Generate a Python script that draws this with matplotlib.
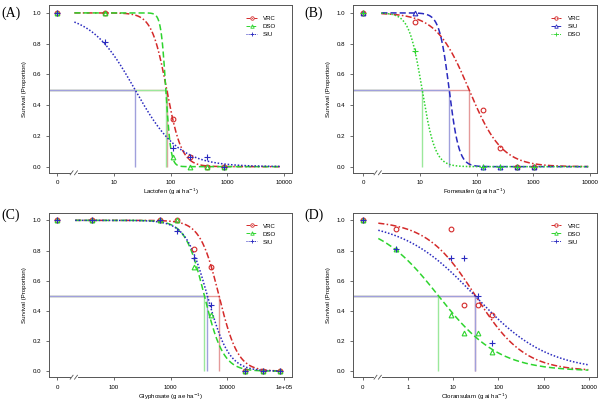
import numpy as np
import matplotlib
matplotlib.use("Agg")
import matplotlib.pyplot as plt

plt.rcParams['font.family'] = ['Liberation Sans', 'DejaVu Sans']

RED = "#d42a2a"
GREEN = "#2ed42e"
BLUE = "#2a2abf"
LIGHT = {RED: "#e49a9a", GREEN: "#9be89b", BLUE: "#a0a0dc"}

# ---- Panel A: Lactofen ----
a_dose = [0, 7, 110, 220, 440, 880]
a_vrc = [1.0, 1.0, 0.31, 0.06, 0.0, 0.0]
a_dso = [1.0, 1.0, 0.06, 0.0, 0.0, 0.0]
a_siu = [1.0, 0.81, 0.12, 0.06, 0.06, 0.0]
a_ed50 = [85, 82, 23.5]          # VRC, DSO, SIU
a_slope = [3.3, 10, 1.12]

# ---- Panel B: Fomesafen ----
b_dose = [0, 8.2, 131, 263, 525, 1050]
b_vrc = [1.0, 0.94, 0.37, 0.12, 0.0, 0.0]
b_siu = [1.0, 1.0, 0.0, 0.0, 0.0, 0.0]
b_dso = [1.0, 0.75, 0.0, 0.0, 0.0, 0.0]
b_ed50 = [74, 33, 11]            # VRC, SIU, DSO
b_slope = [1.5, 5, 3.8]

# ---- Panel C: Glyphosate ----
c_dose = [0, 40.6, 650, 1300, 2600, 5200, 20800, 41600, 83200]
c_vrc = [1.0, 1.0, 1.0, 1.0, 0.81, 0.69, 0.0, 0.0, 0.0]
c_dso = [1.0, 1.0, 1.0, 1.0, 0.69, 0.37, 0.0, 0.0, 0.0]
c_siu = [1.0, 1.0, 1.0, 0.93, 0.75, 0.44, 0.0, 0.0, 0.0]
c_ed50 = [7100, 3920, 4430]      # VRC, DSO, SIU
c_slope = [2.6, 2.6, 2.3]

# ---- Panel D: Cloransulam ----
d_dose = [0, 0.55, 8.8, 17.6, 35.2, 70.4]
d_vrc = [1.0, 0.94, 0.94, 0.44, 0.44, 0.37]
d_dso = [1.0, 0.81, 0.37, 0.25, 0.25, 0.125]
d_siu = [1.0, 0.81, 0.75, 0.75, 0.50, 0.19]
d_ed50 = [31, 4.7, 30]           # VRC, DSO, SIU
d_slope = [0.8, 0.65, 0.54]

panels = [
    dict(tag="(A)", herb="Lactofen (g ai ha$^{-1}$)", dose=a_dose,
         pops=["VRC", "DSO", "SIU"], ys=[a_vrc, a_dso, a_siu],
         ed=a_ed50, b=a_slope, cols=[RED, GREEN, BLUE],
         zero=1, ticks=[10, 100, 1000, 10000], tlab=["10", "100", "1000", "10000"],
         xlim=(0.714, 13770), crange=(2.0, 8800)),
    dict(tag="(B)", herb="Fomesafen (g ai ha$^{-1}$)", dose=b_dose,
         pops=["VRC", "SIU", "DSO"], ys=[b_vrc, b_siu, b_dso],
         ed=b_ed50, b=b_slope, cols=[RED, BLUE, GREEN],
         zero=1, ticks=[10, 100, 1000, 10000], tlab=["10", "100", "1000", "10000"],
         xlim=(0.66, 13200), crange=(2.1, 9300)),
    dict(tag="(C)", herb="Glyphosate (g ae ha$^{-1}$)", dose=c_dose,
         pops=["VRC", "DSO", "SIU"], ys=[c_vrc, c_dso, c_siu],
         ed=c_ed50, b=c_slope, cols=[RED, GREEN, BLUE],
         zero=10, ticks=[100, 1000, 10000, 100000], tlab=["100", "1000", "10000", "1e+05"],
         xlim=(7.14, 137700), crange=(20.7, 93000)),
    dict(tag="(D)", herb="Cloransulam (g ai ha$^{-1}$)", dose=d_dose,
         pops=["VRC", "DSO", "SIU"], ys=[d_vrc, d_dso, d_siu],
         ed=d_ed50, b=d_slope, cols=[RED, GREEN, BLUE],
         zero=0.1, ticks=[1, 10, 100, 1000, 10000], tlab=["1", "10", "100", "1000", "10000"],
         xlim=(0.060, 15000), crange=(0.22, 9700)),
]

styles = [(0, (4, 1.5, 1, 1.5)), (0, (4, 2)), (0, (1, 1.2))]
markers = ["o", "^", "+"]

# axes rectangles in figure fraction (left, bottom, width, height)
rects = [(0.0817, 0.568, 0.405, 0.419),
         (0.588, 0.568, 0.4067, 0.419),
         (0.0817, 0.057, 0.405, 0.411),
         (0.588, 0.057, 0.4067, 0.411)]
tagpos = [(0.003, 0.968), (0.508, 0.968), (0.003, 0.463), (0.508, 0.463)]

FS = 4.4
fig = plt.figure(figsize=(6, 4), dpi=100)

for p, r, tp in zip(panels, rects, tagpos):
    ax = fig.add_axes(r)
    ax.set_xscale("log")
    dose = np.array(p["dose"], dtype=float)
    xplot = np.where(dose == 0, p["zero"], dose)
    xc = np.logspace(np.log10(p["crange"][0]), np.log10(p["crange"][1]), 300)

    # ED50 reference lines (light colours), blue drawn last
    order = sorted(range(3), key=lambda i: p["cols"][i] == BLUE)
    for i in order:
        lc = LIGHT[p["cols"][i]]
        ax.plot([p["xlim"][0], p["ed"][i]], [0.5, 0.5], color=lc,
                lw=1.0, zorder=1, solid_capstyle="butt")
        ax.plot([p["ed"][i], p["ed"][i]], [0, 0.5], color=lc,
                lw=1.0, zorder=1, solid_capstyle="butt")

    for i in range(3):
        col = p["cols"][i]
        yc = 1.0 / (1.0 + (xc / p["ed"][i]) ** p["b"][i])
        ax.plot(xc, yc, color=col, ls=styles[i], lw=1.1, zorder=2)
        mfc = "none" if markers[i] != "+" else col
        ax.plot(xplot, p["ys"][i], ls="none", marker=markers[i],
                ms=3.4 if markers[i] != "+" else 4.5,
                mfc=mfc, mec=col, mew=0.8, zorder=3)
        # legend proxy
        ax.plot([], [], color=col, ls=styles[i], lw=0.7, marker=markers[i],
                ms=2.5, mfc=mfc, mec=col, mew=0.6, label=p["pops"][i])

    ax.set_xlim(*p["xlim"])
    ax.set_ylim(-0.04, 1.05)
    ax.set_xticks([p["zero"]] + p["ticks"])
    ax.set_xticklabels(["0"] + p["tlab"])
    ax.xaxis.set_minor_locator(matplotlib.ticker.NullLocator())
    ax.set_yticks([0, 0.2, 0.4, 0.6, 0.8, 1.0])
    ax.set_yticklabels(["0.0", "0.2", "0.4", "0.6", "0.8", "1.0"])
    ax.tick_params(labelsize=FS, length=2.5, width=0.6, color="#555555", pad=3)
    for s in ax.spines.values():
        s.set_color("#555555")
        s.set_linewidth(0.7)
    ax.set_xlabel(p["herb"], fontsize=FS, labelpad=1.0)
    ax.set_ylabel("Survival (Proportion)", fontsize=FS, labelpad=4)

    # axis break marks on bottom spine
    bx = 0.105
    ax.plot([bx - 0.012, bx + 0.012], [0, 0], color="white", lw=1.5,
            transform=ax.transAxes, clip_on=False, zorder=5)
    for dx in (-0.012, 0.006):
        ax.plot([bx + dx - 0.006, bx + dx + 0.006], [-0.012, 0.012], color="#555555",
                lw=0.6, transform=ax.transAxes, clip_on=False, zorder=6)

    ax.legend(loc="upper left", bbox_to_anchor=(0.80, 0.955), frameon=False,
              fontsize=FS, handlelength=1.7, handletextpad=1.0,
              labelspacing=0.45, borderpad=0)
    fig.text(tp[0], tp[1], p["tag"], fontsize=10, family="Liberation Serif",
             ha="left", va="center")

fig.savefig("out.png", dpi=100)
